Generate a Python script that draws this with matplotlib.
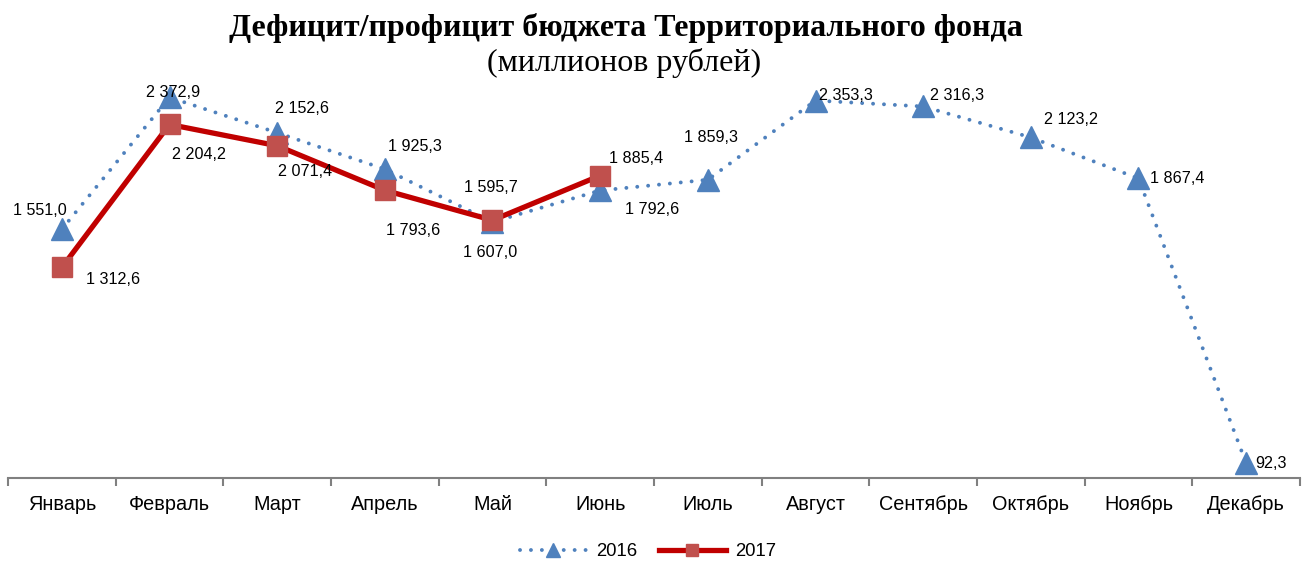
import matplotlib
matplotlib.use("Agg")
import matplotlib.pyplot as plt
import numpy as np
from matplotlib.ticker import FixedLocator

months = ["Январь", "Февраль", "Март", "Апрель", "Май", "Июнь", "Июль",
          "Август", "Сентябрь", "Октябрь", "Ноябрь", "Декабрь"]
v2016 = [1551.0, 2372.9, 2152.6, 1925.3, 1595.7, 1792.6, 1859.3,
         2353.3, 2316.3, 2123.2, 1867.4, 92.3]
v2017 = [1312.6, 2204.2, 2071.4, 1793.6, 1607.0, 1885.4]

def fmt(v):
    s = f"{v:,.1f}".replace(",", " ").replace(".", ",")
    return s

# label offsets in pixels (dx, dy up)
off2016 = [(-22, 19), (4, 5), (25, 24), (30, 23), (-2, 35), (52, -19), (3, 42),
           (30, 5), (34, 11), (40, 18), (39, 0), (25, 0)]
off2017 = [(51, -12), (29, -30), (28, -26), (28, -40), (-2, -32), (36, 17)]

plt.rcParams['font.family'] = ['Liberation Sans', 'DejaVu Sans']
fig = plt.figure(figsize=(13.09, 5.62), dpi=100)
ax = fig.add_axes([8/1309, (562-478)/562, 1292/1309, (478-77)/562])

x16 = np.arange(len(v2016))
x17 = np.arange(len(v2017))
blue = "#4F81BD"
red = "#C00000"
ax.plot(x16, v2016, linestyle=(0, (0.01, 2.8)), dash_capstyle='round', color=blue, lw=2.8,
        marker='^', markersize=16, markerfacecolor=blue, markeredgecolor=blue, label="2016", zorder=3)
ax.plot(x17, v2017, linestyle='-', color=red, lw=3.8,
        marker='s', markersize=14, markerfacecolor="#C0504D", markeredgecolor="#C0504D", label="2017", zorder=4)

for xi, v, (dx, dy) in zip(x16, v2016, off2016):
    ax.annotate(fmt(v), (xi, v), xytext=(dx, dy), textcoords='offset pixels',
                ha='center', va='center', fontsize=11.6, color='#000000', zorder=5)
for xi, v, (dx, dy) in zip(x17, v2017, off2017):
    ax.annotate(fmt(v), (xi, v), xytext=(dx, dy), textcoords='offset pixels',
                ha='center', va='center', fontsize=11.6, color='#000000', zorder=5)

ax.set_xlim(-0.5, 11.5)
ax.set_ylim(0, 2500)
ax.set_yticks([])
for s in ['top', 'right', 'left']:
    ax.spines[s].set_visible(False)
ax.spines['bottom'].set_color('#808080')
ax.spines['bottom'].set_linewidth(1.5)
ax.set_xticks(x16)
ax.set_xticklabels(months, fontsize=14.3)
ax.tick_params(axis='x', which='major', length=0, pad=12)
ax.xaxis.set_minor_locator(FixedLocator(np.arange(-0.5, 12, 1)))
ax.tick_params(axis='x', which='minor', length=6, width=1.5, color='#808080')

fig.text(0.478, 0.951, "Дефицит/профицит бюджета Территориального фонда",
         ha='center', va='center', fontsize=23, fontweight='bold', family='Liberation Serif')
fig.text(0.477, 0.888, "(миллионов рублей)", ha='center', va='center',
         fontsize=23, family='Liberation Serif')

leg = fig.legend(loc='center', bbox_to_anchor=(0.495, 0.018), ncol=2, frameon=False,
                 fontsize=13.3, handlelength=3.6, handletextpad=0.5, columnspacing=1.2,
                 markerscale=0.65)

fig.savefig("out.png", dpi=100)
